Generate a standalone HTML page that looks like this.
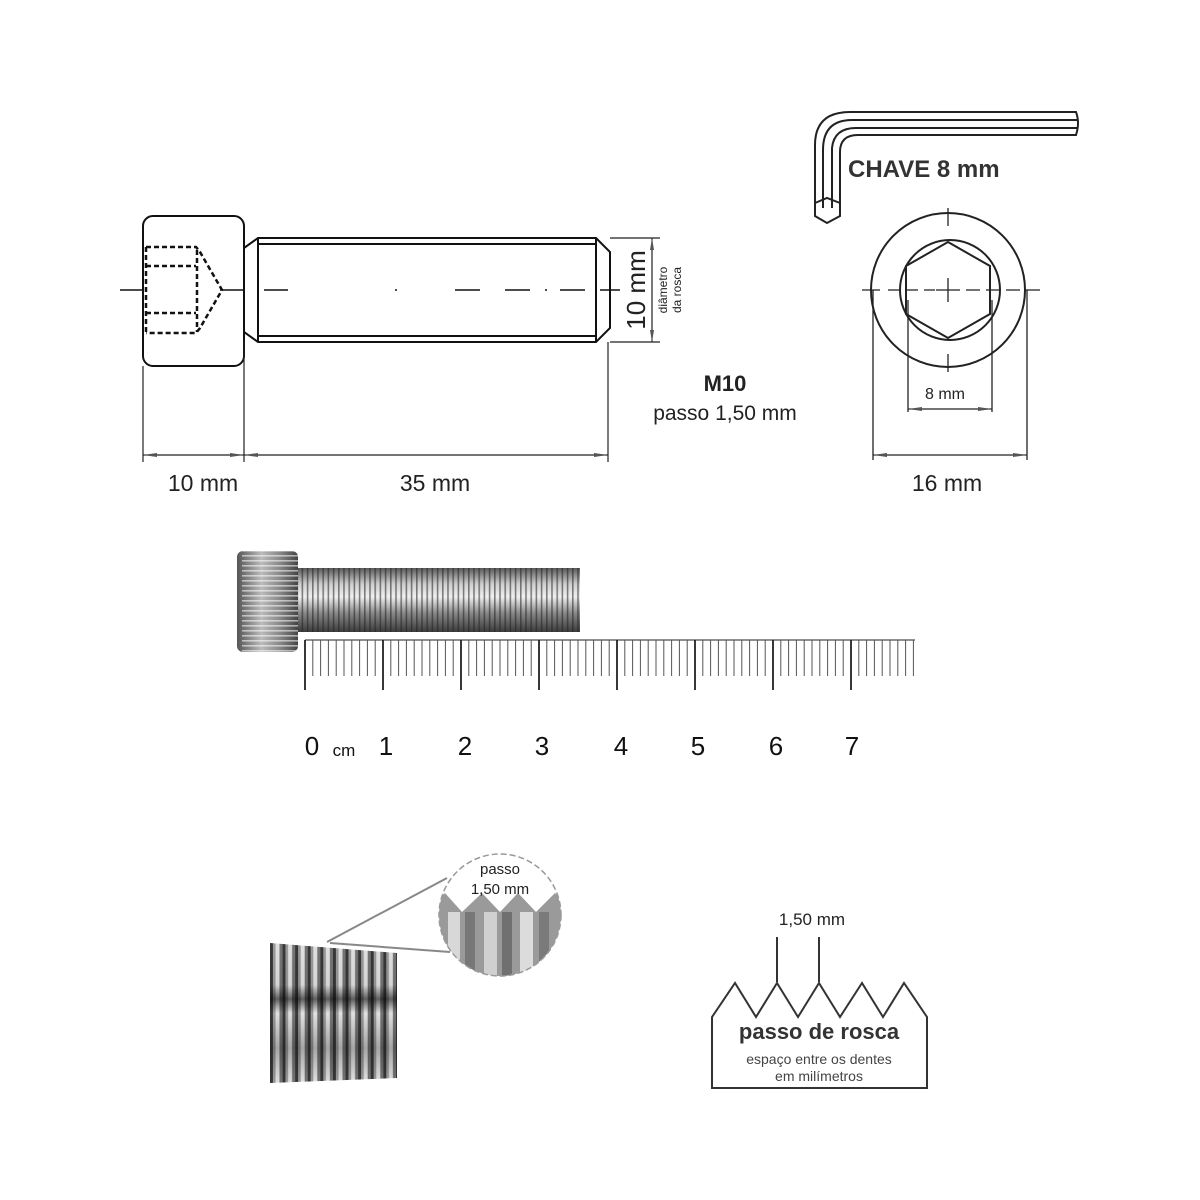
<!DOCTYPE html>
<html><head><meta charset="utf-8"><style>
html,body{margin:0;padding:0;background:#fff;}
svg{display:block;}
text{font-family:"Liberation Sans",Arial,sans-serif;}
</style></head><body>
<svg width="1200" height="1200" viewBox="0 0 1200 1200" xmlns="http://www.w3.org/2000/svg">
<defs>
  <linearGradient id="metalV" x1="0" y1="0" x2="0" y2="1">
    <stop offset="0" stop-color="#5a5a5a"/>
    <stop offset="0.25" stop-color="#cfcfcf"/>
    <stop offset="0.45" stop-color="#f0f0f0"/>
    <stop offset="0.7" stop-color="#8a8a8a"/>
    <stop offset="1" stop-color="#3c3c3c"/>
  </linearGradient>
  <pattern id="thr" x="0" y="0" width="5.2" height="10" patternUnits="userSpaceOnUse">
    <rect x="0" width="1.6" height="10" fill="#222" opacity="0.55"/>
  </pattern>
  <pattern id="knurl" x="0" y="0" width="10" height="5" patternUnits="userSpaceOnUse">
    <rect y="0" width="10" height="1.6" fill="#fff" opacity="0.55"/>
  </pattern>
  <linearGradient id="headG" x1="0" y1="0" x2="1" y2="0">
    <stop offset="0" stop-color="#555"/>
    <stop offset="0.4" stop-color="#bbb"/>
    <stop offset="0.7" stop-color="#888"/>
    <stop offset="1" stop-color="#444"/>
  </linearGradient>
  <pattern id="thr2" x="270" y="0" width="12.6" height="200" patternUnits="userSpaceOnUse">
    <rect width="12.6" height="200" fill="#ececec"/>
    <rect x="0" width="3" height="200" fill="#3a3a3a"/>
    <rect x="3" width="2.5" height="200" fill="#a0a0a0"/>
    <rect x="9.5" width="3.1" height="200" fill="#7a7a7a"/>
  </pattern>
  <linearGradient id="band" x1="0" y1="0" x2="0" y2="1">
    <stop offset="0" stop-color="#000" stop-opacity="0.05"/>
    <stop offset="0.3" stop-color="#000" stop-opacity="0.1"/>
    <stop offset="0.4" stop-color="#000" stop-opacity="0.6"/>
    <stop offset="0.5" stop-color="#000" stop-opacity="0.05"/>
    <stop offset="0.75" stop-color="#000" stop-opacity="0.3"/>
    <stop offset="1" stop-color="#000" stop-opacity="0.05"/>
  </linearGradient>
  <clipPath id="mag"><circle cx="500" cy="915" r="61"/></clipPath>
</defs>

<g stroke="#111" fill="none" stroke-width="2">
  <rect x="143" y="216" width="101" height="150" rx="10"/>
  <path d="M244 248 L258 238 L596 238 L610 252 L610 328 L596 342 L258 342 L244 332 Z"/>
  <line x1="258" y1="244" x2="596" y2="244"/>
  <line x1="258" y1="336" x2="596" y2="336"/>
  <line x1="258" y1="238" x2="258" y2="342"/>
  <line x1="596" y1="238" x2="596" y2="342"/>
</g>
<g stroke="#111" fill="none" stroke-width="2.5" stroke-dasharray="5,3">
  <path d="M146 247 L196 247 L200 252 L222 290 L200 328 L196 333 L146 333"/>
  <line x1="146" y1="266" x2="196" y2="266"/>
  <line x1="146" y1="313" x2="196" y2="313"/>
  <line x1="197" y1="250" x2="197" y2="332"/>
  <line x1="146" y1="247" x2="146" y2="333"/>
</g>
<g stroke="#111" stroke-width="1.5">
  <line x1="120" y1="290" x2="143" y2="290"/>
  <line x1="220" y1="290" x2="244" y2="290"/>
  <line x1="264" y1="290" x2="288" y2="290"/>
  <line x1="395" y1="290" x2="397" y2="290"/>
  <line x1="455" y1="290" x2="480" y2="290"/>
  <line x1="505" y1="290" x2="530" y2="290"/>
  <line x1="545" y1="290" x2="547" y2="290"/>
  <line x1="560" y1="290" x2="585" y2="290"/>
  <line x1="600" y1="290" x2="620" y2="290"/>
</g>
<g stroke="#222" stroke-width="1.2" fill="none">
  <line x1="143" y1="366" x2="143" y2="462"/>
  <line x1="244" y1="340" x2="244" y2="462"/>
  <line x1="608" y1="342" x2="608" y2="462"/>
  <line x1="143" y1="455" x2="608" y2="455"/>
  <line x1="610" y1="238" x2="660" y2="238"/>
  <line x1="610" y1="342" x2="660" y2="342"/>
  <line x1="652" y1="238" x2="652" y2="342"/>
</g>
<g fill="#555">
  <path d="M143 455 l14 -2 v4 z"/><path d="M244 455 l-14 -2 v4 z"/>
  <path d="M244 455 l14 -2 v4 z"/><path d="M608 455 l-14 -2 v4 z"/>
  <path d="M652 238 l-2 12 h4 z"/><path d="M652 342 l-2 -12 h4 z"/>
</g>
<text x="203" y="491" font-size="23" text-anchor="middle" fill="#222">10 mm</text>
<text x="435" y="491" font-size="23" text-anchor="middle" fill="#222">35 mm</text>
<text transform="translate(645,290) rotate(-90)" font-size="26" text-anchor="middle" fill="#222">10 mm</text>
<text transform="translate(667,290) rotate(-90)" font-size="12" text-anchor="middle" fill="#222">diâmetro</text>
<text transform="translate(681,290) rotate(-90)" font-size="12" text-anchor="middle" fill="#222">da rosca</text>
<text x="725" y="391" font-size="22" font-weight="bold" text-anchor="middle" fill="#222">M10</text>
<text x="725" y="420" font-size="21" text-anchor="middle" fill="#222">passo 1,50 mm</text>

<g stroke="#222" stroke-width="2" fill="none">
  <path d="M815 212 L815 145 Q815 112 850 112 L1076 112 Q1080 123 1076 135 L858 135 Q840 135 840 152 L840 212"/>
  <path d="M823 208 L823 150 Q823 120 852 120 L1078 120"/>
  <path d="M832 208 L832 148 Q834 128 856 128 L1078 128"/>
  <path d="M815 203 L827 198 L840 203 L840 216 L827 223 L815 216 Z"/>
</g>
<text x="848" y="177" font-size="24" font-weight="bold" fill="#333">CHAVE 8 mm</text>

<g stroke="#222" stroke-width="2" fill="none">
  <circle cx="948" cy="290" r="77"/>
  <circle cx="950" cy="290" r="50"/>
  <path d="M948 242 L990 266 L990 314 L948 338 L906 314 L906 266 Z"/>
</g>
<g stroke="#222" stroke-width="1.3">
  <line x1="948" y1="208" x2="948" y2="226"/>
  <line x1="948" y1="354" x2="948" y2="372"/>
  <line x1="948" y1="278" x2="948" y2="302"/>
  <line x1="862" y1="290" x2="880" y2="290"/>
  <line x1="888" y1="290" x2="935" y2="290" stroke-dasharray="12,6"/>
  <line x1="936" y1="290" x2="960" y2="290"/>
  <line x1="966" y1="290" x2="1040" y2="290" stroke-dasharray="14,6"/>
  <line x1="908" y1="300" x2="908" y2="412"/>
  <line x1="992" y1="300" x2="992" y2="412"/>
  <line x1="908" y1="409" x2="992" y2="409"/>
  <line x1="873" y1="290" x2="873" y2="460"/>
  <line x1="1027" y1="290" x2="1027" y2="460"/>
  <line x1="873" y1="455" x2="1027" y2="455"/>
</g>
<g fill="#555">
  <path d="M908 409 l14 -2 v4 z"/><path d="M992 409 l-14 -2 v4 z"/>
  <path d="M873 455 l14 -2 v4 z"/><path d="M1027 455 l-14 -2 v4 z"/>
</g>
<text x="945" y="399" font-size="16" text-anchor="middle" fill="#222">8 mm</text>
<text x="947" y="491" font-size="23" text-anchor="middle" fill="#222">16 mm</text>

<rect x="298" y="568" width="282" height="64" fill="url(#metalV)"/>
<rect x="298" y="568" width="282" height="64" fill="url(#thr)"/>
<rect x="237" y="551" width="61" height="101" rx="6" fill="url(#headG)"/>
<rect x="242" y="551" width="56" height="101" fill="url(#knurl)"/>

<g stroke="#222" stroke-width="1">
  <line x1="305" y1="640" x2="915" y2="640"/>
  <line x1="305" y1="640" x2="305" y2="690" stroke-width="1.8"/>
  <line x1="383" y1="640" x2="383" y2="690" stroke-width="1.8"/>
  <line x1="461" y1="640" x2="461" y2="690" stroke-width="1.8"/>
  <line x1="539" y1="640" x2="539" y2="690" stroke-width="1.8"/>
  <line x1="617" y1="640" x2="617" y2="690" stroke-width="1.8"/>
  <line x1="695" y1="640" x2="695" y2="690" stroke-width="1.8"/>
  <line x1="773" y1="640" x2="773" y2="690" stroke-width="1.8"/>
  <line x1="851" y1="640" x2="851" y2="690" stroke-width="1.8"/>
</g>
<g id="mm" stroke="#555" stroke-width="1">
  <path d="M312.8 640v36M320.6 640v36M328.4 640v36M336.2 640v36M344 640v36M351.8 640v36M359.6 640v36M367.4 640v36M375.2 640v36"/>
</g>
<use href="#mm" x="78"/><use href="#mm" x="156"/><use href="#mm" x="234"/><use href="#mm" x="312"/><use href="#mm" x="390"/><use href="#mm" x="468"/>
<g stroke="#555" stroke-width="1"><path d="M858.8 640v36M866.6 640v36M874.4 640v36M882.2 640v36M890 640v36M897.8 640v36M905.6 640v36M913.4 640v36"/></g>
<g font-size="26" fill="#111" text-anchor="middle">
  <text x="312" y="755">0</text><text x="386" y="755">1</text><text x="465" y="755">2</text>
  <text x="542" y="755">3</text><text x="621" y="755">4</text><text x="698" y="755">5</text>
  <text x="776" y="755">6</text><text x="852" y="755">7</text>
</g>
<text x="344" y="756" font-size="17" text-anchor="middle" fill="#111">cm</text>

<path d="M270 943 L397 953 L397 1078 L270 1083 Z" fill="url(#thr2)"/>
<path d="M270 943 L397 953 L397 1078 L270 1083 Z" fill="url(#band)"/>
<g stroke="#888" stroke-width="2">
  <line x1="327" y1="942" x2="447" y2="878"/>
  <line x1="330" y1="943" x2="450" y2="952"/>
</g>
<circle cx="500" cy="915" r="61" fill="#fff"/>
<g clip-path="url(#mag)">
  <path d="M430 907 L445 893 L462 912 L482 893 L500 912 L518 893 L536 912 L555 893 L570 907 L570 990 L430 990 Z" fill="#9a9a9a"/>
  <rect x="448" y="912" width="12" height="70" fill="#d8d8d8"/>
  <rect x="484" y="912" width="13" height="70" fill="#d0d0d0"/>
  <rect x="520" y="912" width="13" height="70" fill="#dcdcdc"/>
  <rect x="465" y="912" width="10" height="70" fill="#777"/>
  <rect x="502" y="912" width="10" height="70" fill="#707070"/>
  <rect x="539" y="912" width="10" height="70" fill="#7a7a7a"/>
</g>
<circle cx="500" cy="915" r="61" fill="none" stroke="#999" stroke-width="1.5" stroke-dasharray="6,3"/>
<text x="500" y="874" font-size="15" text-anchor="middle" fill="#222">passo</text>
<text x="500" y="894" font-size="15" text-anchor="middle" fill="#222">1,50 mm</text>

<g stroke="#333" stroke-width="2" fill="none">
  <path d="M712 1017 L735 983 L756 1017 L777 983 L798 1017 L819 983 L840 1017 L862 983 L883 1017 L904 983 L927 1017 L927 1088 L712 1088 Z"/>
  <line x1="777" y1="937" x2="777" y2="982"/>
  <line x1="819" y1="937" x2="819" y2="982"/>
</g>
<text x="812" y="925" font-size="17" text-anchor="middle" fill="#222">1,50 mm</text>
<text x="819" y="1039" font-size="22" font-weight="bold" text-anchor="middle" fill="#333">passo de rosca</text>
<text x="819" y="1064" font-size="14" text-anchor="middle" fill="#444">espaço entre os dentes</text>
<text x="819" y="1081" font-size="14" text-anchor="middle" fill="#444">em milímetros</text>
</svg>
</body></html>
